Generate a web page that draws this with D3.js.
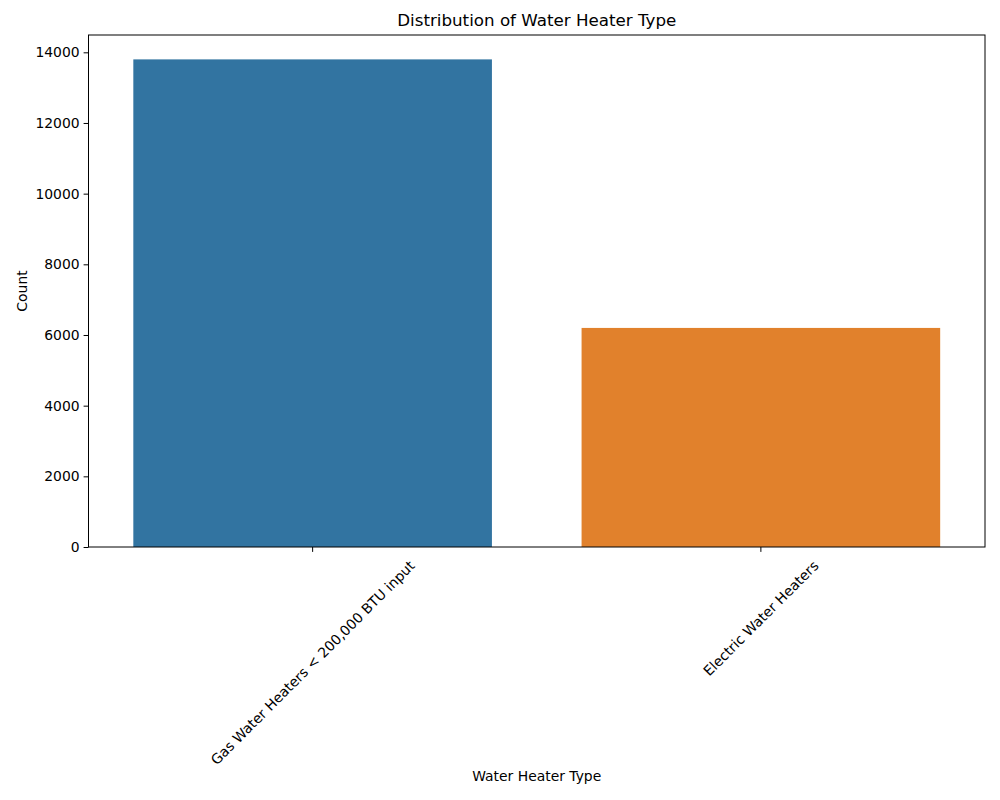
<!DOCTYPE html>
<html>
<head>
<meta charset="utf-8">
<script src="https://cdn.jsdelivr.net/npm/d3@7"></script>
<style>
  body { margin: 0; background: #fff; }
  text { font-family: "DejaVu Sans", sans-serif; fill: #000; }
</style>
</head>
<body>
<div id="chart"></div>
<script>
var categories = ["Gas Water Heaters < 200,000 BTU input", "Electric Water Heaters"];
var counts = [13800, 6200];
var colors = ["#3274a1", "#e1812c"];
var yTicks = [0, 2000, 4000, 6000, 8000, 10000, 12000, 14000];

var margin = {top: 35, right: 15, bottom: 253, left: 88.5},
    totalW = 1000, totalH = 800,
    width = totalW - margin.left - margin.right,
    height = totalH - margin.top - margin.bottom;

var svg = d3.select("#chart").append("svg")
  .attr("width", totalW)
  .attr("height", totalH);

var g = svg.append("g")
  .attr("transform", "translate(" + margin.left + "," + margin.top + ")");

var xScale = d3.scaleBand().domain(categories).range([0, width]).paddingInner(0.2).paddingOuter(0.1);
var yScale = d3.scaleLinear().domain([0, d3.max(counts) * 1.05]).range([height, 0]);

// bars
g.selectAll(".bar")
  .data(categories)
  .enter().append("rect")
  .attr("class", "bar")
  .attr("x", function(d){ return xScale(d); })
  .attr("width", xScale.bandwidth())
  .attr("y", function(d, i){ return yScale(counts[i]); })
  .attr("height", function(d, i){ return height - yScale(counts[i]); })
  .attr("fill", function(d, i){ return colors[i]; });

// y axis
var yAxis = d3.axisLeft(yScale).tickValues(yTicks).tickSize(4.9).tickPadding(4).tickFormat(d3.format("d"));
var yg = g.append("g").call(yAxis);
yg.select(".domain").remove();
yg.selectAll("text").style("font-size", "13.9px").style("font-family", "DejaVu Sans");
yg.selectAll("line").attr("stroke", "#000").attr("stroke-width", 1);

// x axis ticks
var xAxis = d3.axisBottom(xScale).tickSize(4.9).tickFormat("");
var xg = g.append("g").attr("transform", "translate(0," + height + ")").call(xAxis);
xg.select(".domain").remove();
xg.selectAll("line").attr("stroke", "#000");

// rotated tick labels, bbox centred under tick like matplotlib
var labels = g.append("g").selectAll(".xlab")
  .data(categories)
  .enter().append("text")
  .attr("class", "xlab")
  .attr("text-anchor", "middle")
  .attr("dominant-baseline", "central")
  .style("font-size", "13.9px")
  .text(function(d){ return d; });

labels.attr("transform", function(d){
  var w = this.getComputedTextLength(), h = 16;
  var half = (w + h) * Math.SQRT1_2 / 2;
  var cx = xScale(d) + xScale.bandwidth() / 2;
  var cy = height + 10.5 + half;
  return "translate(" + cx + "," + cy + ") rotate(-45)";
});

// frame
g.append("rect")
  .attr("width", width)
  .attr("height", height)
  .attr("fill", "none")
  .attr("stroke", "#000")
  .attr("stroke-width", 1);

// title and axis labels
svg.append("text")
  .attr("x", margin.left + width / 2)
  .attr("y", 26)
  .attr("text-anchor", "middle")
  .style("font-size", "16.7px")
  .text("Distribution of Water Heater Type");

svg.append("text")
  .attr("x", margin.left + width / 2)
  .attr("y", 781)
  .attr("text-anchor", "middle")
  .style("font-size", "13.9px")
  .text("Water Heater Type");

svg.append("text")
  .attr("transform", "translate(27," + (margin.top + height / 2) + ") rotate(-90)")
  .attr("text-anchor", "middle")
  .style("font-size", "13.9px")
  .text("Count");
</script>
</body>
</html>
